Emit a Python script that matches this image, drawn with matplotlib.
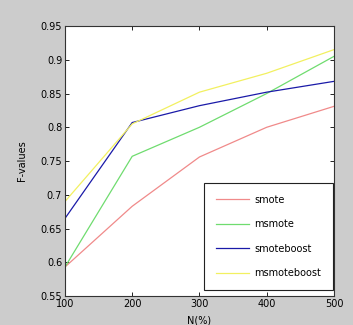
import matplotlib
matplotlib.use("Agg")
import matplotlib.pyplot as plt

# values
n_values = [100, 200, 300, 400, 500]
smote = [0.593, 0.683, 0.756, 0.800, 0.831]
msmote = [0.593, 0.757, 0.800, 0.850, 0.905]
smoteboost = [0.665, 0.807, 0.832, 0.852, 0.868]
msmoteboost = [0.690, 0.805, 0.852, 0.880, 0.915]

y_ticks = [0.55, 0.6, 0.65, 0.7, 0.75, 0.8, 0.85, 0.9, 0.95]
y_tick_labels = ["0.55", "0.6", "0.65", "0.7", "0.75", "0.8", "0.85", "0.9", "0.95"]

fig = plt.figure(figsize=(3.53, 3.25), dpi=100, facecolor="#cccccc")
ax = fig.add_axes([0.184, 0.089, 0.762, 0.831])
ax.set_facecolor("white")

ax.plot(n_values, smote, color="#f08a8a", lw=0.9, label="smote")
ax.plot(n_values, msmote, color="#6fdc6f", lw=0.9, label="msmote")
ax.plot(n_values, smoteboost, color="#1a1aa8", lw=0.9, label="smoteboost")
ax.plot(n_values, msmoteboost, color="#f2f060", lw=0.9, label="msmoteboost")

ax.set_xlim(100, 500)
ax.set_ylim(0.55, 0.95)
ax.set_xticks(n_values)
ax.set_yticks(y_ticks)
ax.set_yticklabels(y_tick_labels)
ax.tick_params(direction="in", length=3, width=0.6, labelsize=7,
               top=True, right=True, pad=2)
for s in ax.spines.values():
    s.set_linewidth(0.8)
    s.set_color("#333333")

ax.set_xlabel("N(%)", fontsize=7, labelpad=5)
ax.set_ylabel("F-values", fontsize=7, labelpad=10)

leg = ax.legend(loc="lower right", bbox_to_anchor=(0.997, 0.022), fontsize=7,
                handlelength=3.4, labelspacing=1.5, borderpad=1.2,
                handletextpad=0.6, borderaxespad=0, fancybox=False, framealpha=1)
leg.get_frame().set_edgecolor("#222222")
leg.get_frame().set_linewidth(0.8)

fig.savefig("out.png", dpi=100, facecolor=fig.get_facecolor())
